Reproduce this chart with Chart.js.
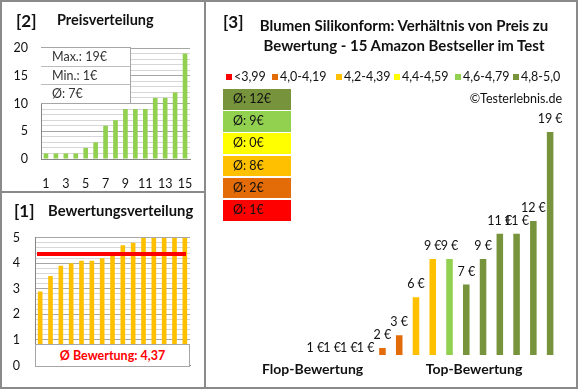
<!DOCTYPE html>
<html>
<head>
<meta charset="utf-8">
<script src="https://cdn.jsdelivr.net/npm/chart.js@4.4.1/dist/chart.umd.min.js"></script>
<style>
  body { margin: 0; background: #fff; font-family: Lato, "Open Sans", sans-serif; color: #111; }
  #wrap { position: relative; width: 580px; height: 390px; overflow: hidden; }
  .frame { position: absolute; left: 0; top: 0; width: 578px; height: 389px; border: 2px solid #8a8a8a; box-sizing: border-box; }
  .vline { position: absolute; left: 204px; top: 0; width: 2px; height: 389px; background: #8a8a8a; }
  .hline { position: absolute; left: 0; top: 191px; width: 205px; height: 2px; background: #8a8a8a; }
  .t { position: absolute; white-space: nowrap; height: 20px; line-height: 20px; }
  .b { font-weight: bold; }
  canvas { position: absolute; }
  .info { position: absolute; left: 41px; top: 47px; width: 90px; height: 57px; background: #fff; border: 1px solid #a6a6a6; border-left: none; box-sizing: border-box; }
  .info div { height: 18.6px; line-height: 18.6px; padding-left: 11px; font-size: 12.5px; color: #333; border-bottom: 1px solid #bdbdbd; box-sizing: border-box; }
  .info div:last-child { border-bottom: none; }
  .avgbox { position: absolute; left: 35px; top: 344px; width: 155px; height: 23px; background: #fff; border: 1px solid #a6a6a6; box-sizing: border-box; text-align: center; line-height: 21px; font-size: 12.5px; font-weight: bold; color: #ff0000; }
  .band { position: absolute; left: 223px; width: 68px; height: 20.5px; line-height: 20.5px; padding-left: 10px; box-sizing: border-box; font-size: 12.5px; }
  .leg { position: absolute; top: 67px; height: 20px; line-height: 20px; font-size: 12.5px; white-space: nowrap; }
  .leg i { display: inline-block; width: 6px; height: 6px; margin-right: 2px; vertical-align: 1px; }
</style>
</head>
<body>
<div id="wrap">
  <canvas id="priceChart" width="205" height="192" style="left:0;top:0"></canvas>
  <canvas id="ratingChart" width="205" height="196" style="left:0;top:192px"></canvas>
  <canvas id="ratioChart" width="372" height="388" style="left:205px;top:0"></canvas>

  <div class="frame"></div>
  <div class="vline"></div>
  <div class="hline"></div>

  <div class="t b" style="left:16px;top:11px;font-size:17px">[2]</div>
  <div class="t b" style="left:57px;top:10px;font-size:14.5px">Preisverteilung</div>
  <div class="info" id="priceInfo"></div>

  <div class="t b" style="left:14px;top:201px;font-size:17px">[1]</div>
  <div class="t b" style="left:48px;top:199.5px;font-size:14.8px">Bewertungsverteilung</div>
  <div class="avgbox" id="ratingAvg"></div>

  <div class="t b" style="left:223px;top:12px;font-size:17px">[3]</div>
  <div class="t b" style="left:204px;width:400px;text-align:center;top:14.5px;font-size:15px">Blumen Silikonform: Verhältnis von Preis zu</div>
  <div class="t b" style="left:204px;width:400px;text-align:center;top:34.5px;font-size:15px">Bewertung - 15 Amazon Bestseller im Test</div>
  <div id="legend"></div>
  <div class="t" style="right:18px;top:89px;font-size:12.5px">©Testerlebnis.de</div>
  <div id="bands"></div>
  <div class="t b" style="left:262px;width:100px;text-align:center;top:359px;font-size:14px">Flop-Bewertung</div>
  <div class="t b" style="left:424px;width:100px;text-align:center;top:359px;font-size:14px">Top-Bewertung</div>
</div>
<script>
// products sorted by rating (as in panel [3])
const ratings = [2.9, 3.5, 3.9, 4.0, 4.1, 4.1, 4.2, 4.3, 4.7, 4.8, 5.0, 5.0, 5.0, 5.0, 5.0];
const prices = [1, 1, 1, 1, 2, 3, 6, 9, 9, 7, 9, 11, 11, 12, 19];
const positions = ['1', '2', '3', '4', '5', '6', '7', '8', '9', '10', '11', '12', '13', '14', '15'];
const priceTicks = [0, 5, 10, 15, 20];
const ratingTicks = [0, 1, 2, 3, 4, 5];
const bandLabels = ['<3,99', '4,0-4,19', '4,2-4,39', '4,4-4,59', '4,6-4,79', '4,8-5,0'];
const bandLower = [0, 4.0, 4.2, 4.4, 4.6, 4.8];

const bandColors = ['#FF0000', '#E36C09', '#FFC000', '#FFFF00', '#92D050', '#77933C'];
const legendLeft = [226, 272, 336, 394, 455, 513];

Chart.defaults.font.family = 'Lato, "Open Sans", sans-serif';
Chart.defaults.color = '#111';

const bandOf = r => {
  let b = 0;
  bandLower.forEach((lo, i) => { if (r >= lo - 1e-9) b = i; });
  return b;
};
const sortedPrices = [...prices].sort((a, b) => a - b);
const sortedRatings = [...ratings].sort((a, b) => a - b);
const avgPrice = prices.reduce((s, v) => s + v, 0) / prices.length;
const avgRating = ratings.reduce((s, v) => s + v, 0) / ratings.length;

// info boxes
document.getElementById('priceInfo').innerHTML =
  '<div>Max.: ' + Math.max(...prices) + '€</div>' +
  '<div>Min.: ' + Math.min(...prices) + '€</div>' +
  '<div>Ø: ' + Math.round(avgPrice) + '€</div>';
document.getElementById('ratingAvg').textContent = 'Ø Bewertung: ' + avgRating.toFixed(2).replace('.', ',');

// legend
const legend = document.getElementById('legend');
bandLabels.forEach((lab, i) => {
  const d = document.createElement('div');
  d.className = 'leg';
  d.style.left = legendLeft[i] + 'px';
  d.innerHTML = '<i style="background:' + bandColors[i] + '"></i>' + lab;
  legend.appendChild(d);
});

// average price per rating band
const bands = document.getElementById('bands');
for (let i = bandLabels.length - 1, row = 0; i >= 0; i--, row++) {
  const ps = prices.filter((p, k) => bandOf(ratings[k]) === i);
  const avg = ps.length ? Math.round(ps.reduce((s, v) => s + v, 0) / ps.length) : 0;
  const d = document.createElement('div');
  d.className = 'band';
  d.style.top = (89 + row * 22.2) + 'px';
  d.style.background = bandColors[i];
  d.textContent = 'Ø: ' + avg + '€';
  bands.appendChild(d);
}

const isMajor = (v, step) => Math.abs(v / step - Math.round(v / step)) < 1e-6;

// [2] Preisverteilung
new Chart(document.getElementById('priceChart'), {
  type: 'bar',
  data: {
    labels: positions,
    datasets: [{ data: sortedPrices, backgroundColor: '#92D050', barPercentage: 0.47, categoryPercentage: 1 }]
  },
  options: {
    responsive: false,
    animation: false,
    layout: { padding: { top: 48, right: 15, left: 0, bottom: 0 } },
    plugins: { legend: { display: false }, tooltip: { enabled: false } },
    scales: {
      x: {
        grid: { display: false },
        border: { color: '#868686' },
        ticks: {
          autoSkip: false, maxRotation: 0, padding: 9, font: { size: 12.5 },
          callback: (v, i) => (i % 2 === 0 ? positions[i] : '')
        },
        afterFit: s => { s.height = 33; }
      },
      y: {
        min: priceTicks[0], max: priceTicks[priceTicks.length - 1],
        grid: { drawTicks: false, color: c => (isMajor(c.tick.value, 5) ? '#a6a6a6' : '#d6d6d6') },
        border: { color: '#868686' },
        ticks: {
          autoSkip: false, stepSize: 1, maxTicksLimit: 50, padding: 13, font: { size: 12.5 },
          callback: v => (isMajor(v, priceTicks[1]) ? Math.round(v) : '')
        },
        afterFit: s => { s.width = 41; }
      }
    }
  }
});

// [1] Bewertungsverteilung
const avgLine = {
  id: 'avgLine',
  afterDatasetsDraw(chart) {
    const { ctx, chartArea, scales } = chart;
    const y = scales.y.getPixelForValue(avgRating);
    ctx.save();
    ctx.strokeStyle = '#FF0000';
    ctx.lineWidth = 4;
    ctx.beginPath();
    ctx.moveTo(chartArea.left + 2, y);
    ctx.lineTo(chartArea.right - 4, y);
    ctx.stroke();
    ctx.restore();
  }
};
new Chart(document.getElementById('ratingChart'), {
  type: 'bar',
  data: {
    labels: positions,
    datasets: [{ data: sortedRatings, backgroundColor: '#FFC000', barPercentage: 0.45, categoryPercentage: 1 }]
  },
  options: {
    responsive: false,
    animation: false,
    layout: { padding: { top: 45.7, right: 15, left: 0, bottom: 0 } },
    plugins: { legend: { display: false }, tooltip: { enabled: false } },
    scales: {
      x: {
        grid: { display: false },
        border: { color: '#868686' },
        ticks: { display: false },
        afterFit: s => { s.height = 16; }
      },
      y: {
        min: ratingTicks[0], max: ratingTicks[ratingTicks.length - 1],
        grid: { drawTicks: false, color: c => (isMajor(c.tick.value, 1) ? '#a6a6a6' : '#d6d6d6') },
        border: { color: '#868686' },
        ticks: {
          autoSkip: false, stepSize: 0.2, maxTicksLimit: 50, padding: 15, font: { size: 12.5 },
          callback: v => (isMajor(v, 1) ? Math.round(v) : '')
        },
        afterFit: s => { s.width = 35; }
      }
    }
  },
  plugins: [avgLine]
});

// [3] Preis zu Bewertung
const valueLabels = {
  id: 'valueLabels',
  afterDatasetsDraw(chart) {
    const { ctx } = chart;
    const meta = chart.getDatasetMeta(0);
    ctx.save();
    ctx.font = '12.5px Lato, "Open Sans", sans-serif';
    ctx.fillStyle = '#111';
    ctx.textAlign = 'center';
    ctx.textBaseline = 'middle';
    meta.data.forEach((bar, i) => {
      ctx.fillText(prices[i] + ' €', bar.x, Math.min(bar.y - 13, 350));
    });
    ctx.restore();
  }
};
new Chart(document.getElementById('ratioChart'), {
  type: 'bar',
  data: {
    labels: positions,
    datasets: [{
      data: prices,
      backgroundColor: ratings.map(r => bandColors[bandOf(r)]),
      barPercentage: 0.39, categoryPercentage: 1, clip: 0
    }]
  },
  options: {
    responsive: false,
    animation: false,
    layout: { padding: { top: 132, right: 18.5, left: 102, bottom: 33 } },
    plugins: { legend: { display: false }, tooltip: { enabled: false } },
    scales: {
      x: { display: false },
      y: { display: false, min: 1.45, max: 19 }
    }
  },
  plugins: [valueLabels]
});
</script>
</body>
</html>
